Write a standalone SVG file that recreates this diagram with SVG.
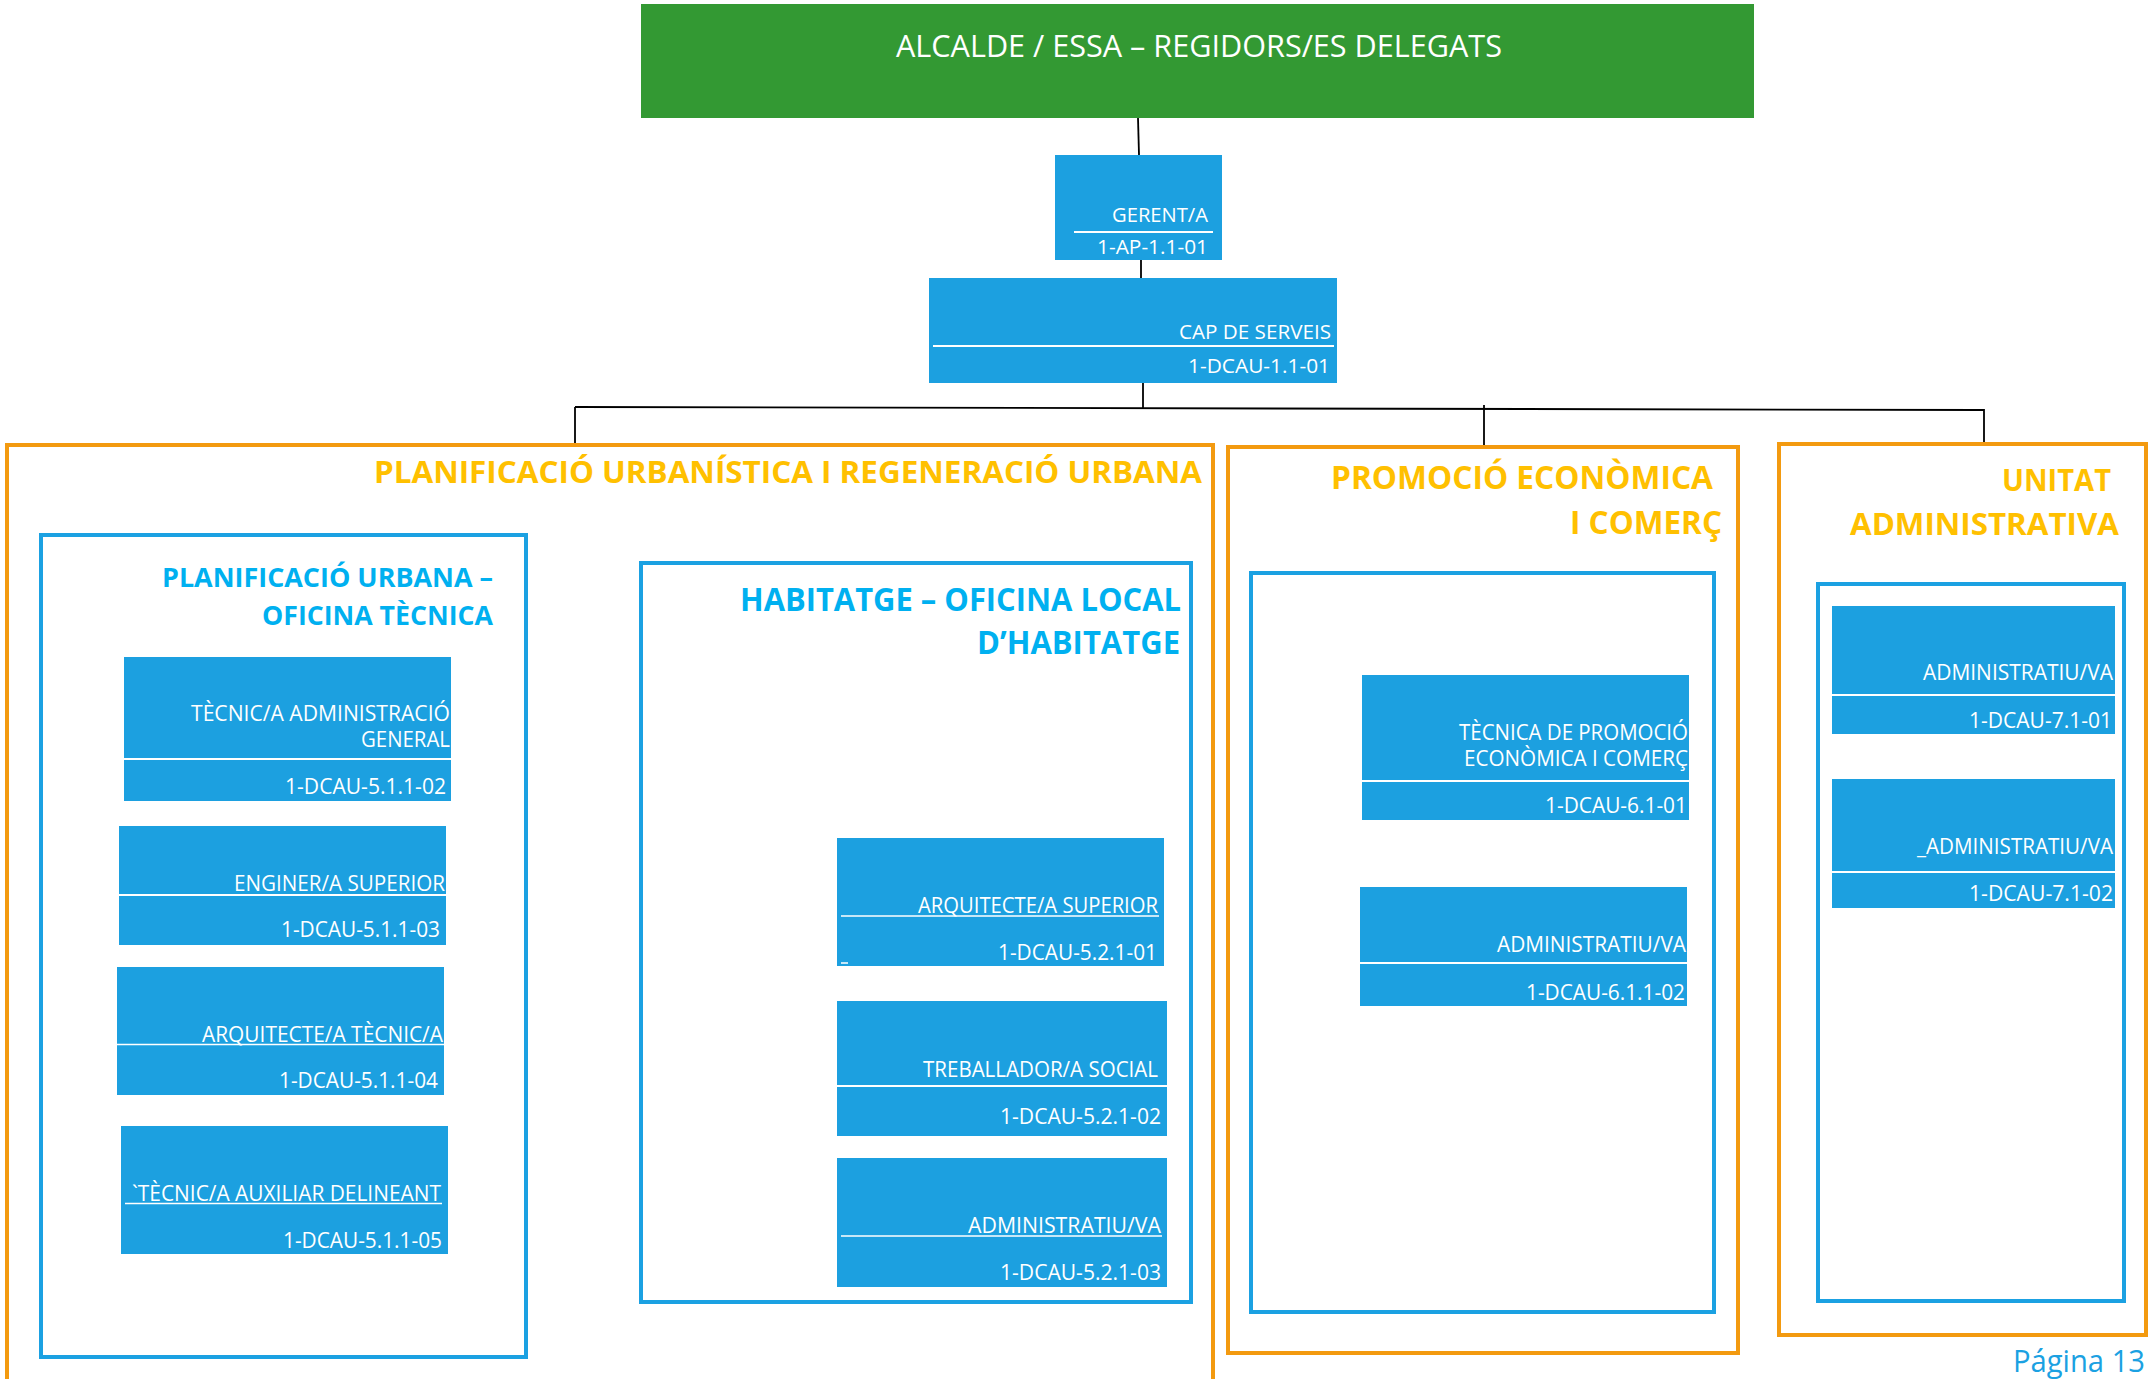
<svg xmlns="http://www.w3.org/2000/svg" width="2154" height="1379" viewBox="0 0 2154 1379">
<style>
.bg{fill:#ffffff}
.green{fill:#339933}
.node{fill:#1ca0e0}
.sep{stroke:#ffffff;stroke-width:2.2}
.ul{stroke:#ffffff;stroke-width:1.5}
.ob{fill:none;stroke:#f39a10;stroke-width:4}
.bb{fill:none;stroke:#1ba1e2;stroke-width:4}
.conn{stroke:#000000;stroke-width:1.8;fill:none}
.t{font-family:"Open Sans","Noto Sans","Liberation Sans",sans-serif;fill:#ffffff;text-anchor:end}
.ot{font-family:"Open Sans","Noto Sans","Liberation Sans",sans-serif;font-weight:bold;fill:#ffc000;text-anchor:end}
.bt{font-family:"Open Sans","Noto Sans","Liberation Sans",sans-serif;font-weight:bold;fill:#00b0f0;text-anchor:end}
.pg{font-family:"Open Sans","Noto Sans","Liberation Sans",sans-serif;fill:#1ba1e2;text-anchor:end}
</style>
<rect class="bg" x="0" y="0" width="2154" height="1379"/>

<g id="connectors">
<line class="conn" x1="1138" y1="118" x2="1139" y2="155"/>
<line class="conn" x1="1141" y1="260" x2="1141" y2="278"/>
<line class="conn" x1="1143" y1="383" x2="1143" y2="408"/>
<path class="conn" d="M575 407 L1984 410"/>
<line class="conn" x1="575" y1="407" x2="575" y2="445"/>
<line class="conn" x1="1484" y1="405" x2="1484" y2="446"/>
<line class="conn" x1="1984" y1="409" x2="1984" y2="444"/>
</g>

<g id="group-planificacio">
<rect class="ob" x="7" y="445" width="1206" height="960"/>
<text class="ot" x="1202" y="483" font-size="30" textLength="828" lengthAdjust="spacingAndGlyphs">PLANIFICACIÓ URBANÍSTICA I REGENERACIÓ URBANA</text>
</g>
<g id="group-promocio">
<rect class="ob" x="1228" y="447" width="510" height="906"/>
<text class="ot" x="1713" y="489" font-size="33" textLength="382" lengthAdjust="spacingAndGlyphs">PROMOCIÓ ECONÒMICA</text>
<text class="ot" x="1722" y="534" font-size="33" textLength="152" lengthAdjust="spacingAndGlyphs">I COMERÇ</text>
</g>
<g id="group-unitat">
<rect class="ob" x="1779" y="444" width="367" height="891"/>
<text class="ot" x="2111" y="491" font-size="31" textLength="109" lengthAdjust="spacingAndGlyphs">UNITAT</text>
<text class="ot" x="2119" y="535" font-size="31" textLength="269" lengthAdjust="spacingAndGlyphs">ADMINISTRATIVA</text>
</g>

<g id="sub-oficina-tecnica">
<rect class="bb" x="41" y="535" width="485" height="822"/>
<text class="bt" x="493" y="587" font-size="26" textLength="331" lengthAdjust="spacingAndGlyphs">PLANIFICACIÓ URBANA –</text>
<text class="bt" x="493" y="625" font-size="26" textLength="231" lengthAdjust="spacingAndGlyphs">OFICINA TÈCNICA</text>
</g>
<g id="sub-habitatge">
<rect class="bb" x="641" y="563" width="550" height="739"/>
<text class="bt" x="1181" y="611" font-size="32" textLength="441" lengthAdjust="spacingAndGlyphs">HABITATGE – OFICINA LOCAL</text>
<text class="bt" x="1180" y="654" font-size="32" textLength="203" lengthAdjust="spacingAndGlyphs">D’HABITATGE</text>
</g>
<g id="sub-promocio">
<rect class="bb" x="1251" y="573" width="463" height="739"/>
</g>
<g id="sub-unitat">
<rect class="bb" x="1818" y="584" width="306" height="717"/>
</g>

<g id="n-alcalde">
<rect class="green" x="641" y="4" width="1113" height="114"/>
<text class="t" x="1502" y="57" font-size="31" textLength="606" lengthAdjust="spacingAndGlyphs">ALCALDE / ESSA – REGIDORS/ES DELEGATS</text>
</g>

<g id="n-gerent">
<rect class="node" x="1055" y="155" width="167" height="105"/>
<text class="t" x="1208" y="222" font-size="20" textLength="96" lengthAdjust="spacingAndGlyphs">GERENT/A</text>
<line class="sep" x1="1074" y1="232" x2="1213" y2="232"/>
<text class="t" x="1208" y="254" font-size="20" textLength="111" lengthAdjust="spacingAndGlyphs">1-AP-1.1-01</text>
</g>

<g id="n-cap">
<rect class="node" x="929" y="278" width="408" height="105"/>
<text class="t" x="1331" y="339" font-size="20" textLength="152" lengthAdjust="spacingAndGlyphs">CAP DE SERVEIS</text>
<line class="sep" x1="933" y1="346" x2="1334" y2="346"/>
<text class="t" x="1330" y="373" font-size="20" textLength="142" lengthAdjust="spacingAndGlyphs">1-DCAU-1.1-01</text>
</g>

<g id="n-5-1-1-02">
<rect class="node" x="124" y="657" width="327" height="144"/>
<text class="t" x="450" y="721" font-size="22" textLength="259" lengthAdjust="spacingAndGlyphs">TÈCNIC/A ADMINISTRACIÓ</text>
<text class="t" x="450" y="747" font-size="22" textLength="89" lengthAdjust="spacingAndGlyphs">GENERAL</text>
<line class="sep" x1="124" y1="759" x2="451" y2="759"/>
<text class="t" x="446" y="794" font-size="22" textLength="161" lengthAdjust="spacingAndGlyphs">1-DCAU-5.1.1-02</text>
</g>

<g id="n-5-1-1-03">
<rect class="node" x="119" y="826" width="327" height="119"/>
<text class="t" x="445" y="891" font-size="22" textLength="211" lengthAdjust="spacingAndGlyphs">ENGINER/A SUPERIOR</text>
<line class="sep" x1="119" y1="895" x2="446" y2="895"/>
<text class="t" x="440" y="937" font-size="22" textLength="159" lengthAdjust="spacingAndGlyphs">1-DCAU-5.1.1-03</text>
</g>

<g id="n-5-1-1-04">
<rect class="node" x="117" y="967" width="327" height="128"/>
<text class="t" x="443" y="1042" font-size="22" textLength="241" lengthAdjust="spacingAndGlyphs">ARQUITECTE/A TÈCNIC/A</text>
<line class="ul" x1="117" y1="1044.5" x2="444" y2="1044.5"/>
<text class="t" x="438" y="1088" font-size="22" textLength="159" lengthAdjust="spacingAndGlyphs">1-DCAU-5.1.1-04</text>
</g>

<g id="n-5-1-1-05">
<rect class="node" x="121" y="1126" width="327" height="128"/>
<text class="t" x="441" y="1201" font-size="22" textLength="309" lengthAdjust="spacingAndGlyphs">`TÈCNIC/A AUXILIAR DELINEANT</text>
<line class="ul" x1="125" y1="1203.5" x2="442" y2="1203.5"/>
<text class="t" x="442" y="1248" font-size="22" textLength="159" lengthAdjust="spacingAndGlyphs">1-DCAU-5.1.1-05</text>
</g>

<g id="n-5-2-1-01">
<rect class="node" x="837" y="838" width="327" height="128"/>
<text class="t" x="1158" y="913" font-size="21" textLength="240" lengthAdjust="spacingAndGlyphs">ARQUITECTE/A SUPERIOR</text>
<line class="ul" x1="841" y1="916" x2="1159" y2="916"/>
<line class="ul" x1="841" y1="963" x2="848" y2="963"/>
<text class="t" x="1157" y="960" font-size="21" textLength="159" lengthAdjust="spacingAndGlyphs">1-DCAU-5.2.1-01</text>
</g>

<g id="n-5-2-1-02">
<rect class="node" x="837" y="1001" width="330" height="135"/>
<text class="t" x="1158" y="1077" font-size="21" textLength="235" lengthAdjust="spacingAndGlyphs">TREBALLADOR/A SOCIAL</text>
<line class="sep" x1="837" y1="1086" x2="1167" y2="1086"/>
<text class="t" x="1161" y="1124" font-size="21" textLength="161" lengthAdjust="spacingAndGlyphs">1-DCAU-5.2.1-02</text>
</g>

<g id="n-5-2-1-03">
<rect class="node" x="837" y="1158" width="330" height="129"/>
<text class="t" x="1161" y="1233" font-size="21" textLength="193" lengthAdjust="spacingAndGlyphs">ADMINISTRATIU/VA</text>
<line class="ul" x1="841" y1="1236" x2="1162" y2="1236"/>
<text class="t" x="1161" y="1280" font-size="21" textLength="161" lengthAdjust="spacingAndGlyphs">1-DCAU-5.2.1-03</text>
</g>

<g id="n-6-1-01">
<rect class="node" x="1362" y="675" width="327" height="145"/>
<text class="t" x="1688" y="740" font-size="21" textLength="229" lengthAdjust="spacingAndGlyphs">TÈCNICA DE PROMOCIÓ</text>
<text class="t" x="1688" y="766" font-size="21" textLength="224" lengthAdjust="spacingAndGlyphs">ECONÒMICA I COMERÇ</text>
<line class="sep" x1="1362" y1="781" x2="1689" y2="781"/>
<text class="t" x="1687" y="813" font-size="21" textLength="142" lengthAdjust="spacingAndGlyphs">1-DCAU-6.1-01</text>
</g>

<g id="n-6-1-1-02">
<rect class="node" x="1360" y="887" width="327" height="119"/>
<text class="t" x="1686" y="952" font-size="21" textLength="189" lengthAdjust="spacingAndGlyphs">ADMINISTRATIU/VA</text>
<line class="sep" x1="1360" y1="963" x2="1687" y2="963"/>
<text class="t" x="1685" y="1000" font-size="21" textLength="159" lengthAdjust="spacingAndGlyphs">1-DCAU-6.1.1-02</text>
</g>

<g id="n-7-1-01">
<rect class="node" x="1832" y="606" width="283" height="128"/>
<text class="t" x="2113" y="680" font-size="21" textLength="190" lengthAdjust="spacingAndGlyphs">ADMINISTRATIU/VA</text>
<line class="sep" x1="1832" y1="695" x2="2115" y2="695"/>
<text class="t" x="2112" y="728" font-size="21" textLength="143" lengthAdjust="spacingAndGlyphs">1-DCAU-7.1-01</text>
</g>

<g id="n-7-1-02">
<rect class="node" x="1832" y="779" width="283" height="129"/>
<text class="t" x="2113" y="854" font-size="21" textLength="196" lengthAdjust="spacingAndGlyphs">_ADMINISTRATIU/VA</text>
<line class="sep" x1="1832" y1="872" x2="2115" y2="872"/>
<text class="t" x="2113" y="901" font-size="21" textLength="144" lengthAdjust="spacingAndGlyphs">1-DCAU-7.1-02</text>
</g>

<text class="pg" x="2145" y="1372" font-size="31" textLength="132" lengthAdjust="spacingAndGlyphs">Página 13</text>
</svg>
